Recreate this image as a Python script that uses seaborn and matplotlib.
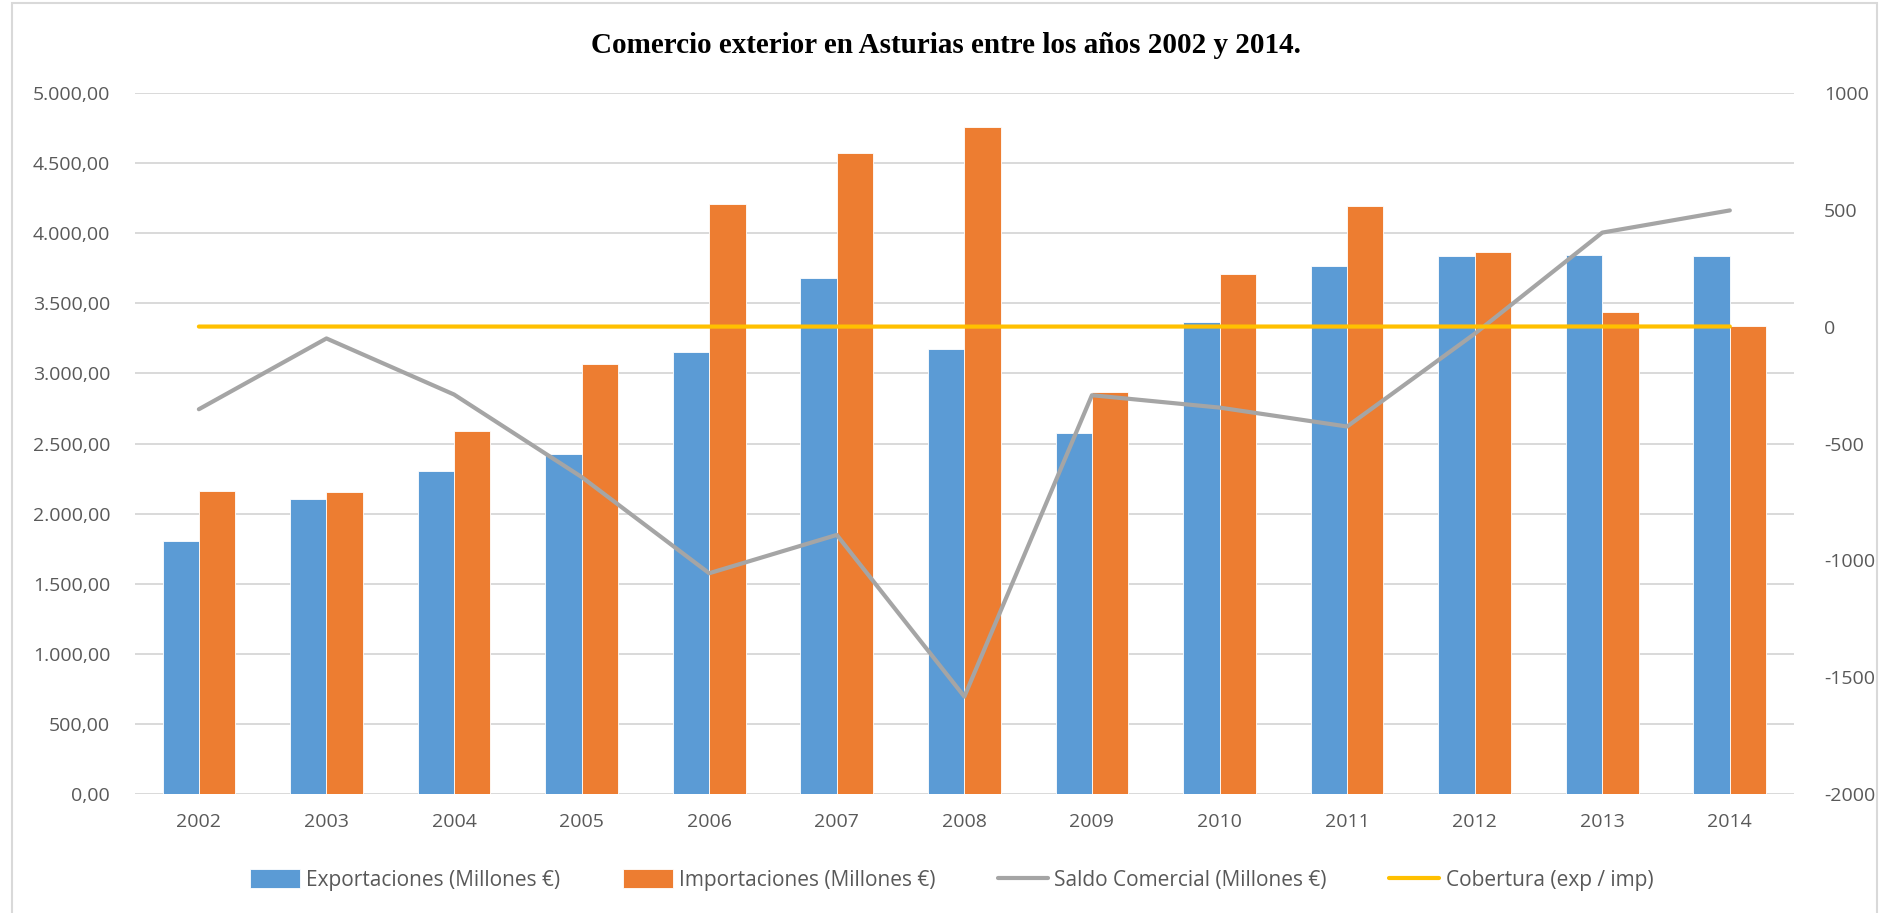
import pandas as pd
import seaborn as sns
import matplotlib.pyplot as plt
from matplotlib.patches import Rectangle
from matplotlib.ticker import FuncFormatter, MultipleLocator

# -----------------------------
# Data
# -----------------------------
anios = ["2002", "2003", "2004", "2005", "2006", "2007", "2008",
         "2009", "2010", "2011", "2012", "2013", "2014"]
exportaciones = [1806, 2105, 2303, 2424, 3151, 3679, 3178,
                 2572, 3366, 3766, 3837, 3843, 3837]
importaciones = [2159, 2155, 2593, 3067, 4206, 4570, 4761,
                 2865, 3712, 4193, 3867, 3440, 3339]
saldo = [-353, -50, -290, -643, -1055, -891, -1583,
         -293, -346, -427, -30, 403, 498]
cobertura = [0.84, 0.98, 0.89, 0.79, 0.75, 0.81, 0.67,
             0.90, 0.91, 0.90, 0.99, 1.12, 1.15]

lab_exp = "Exportaciones (Millones €)"
lab_imp = "Importaciones (Millones €)"
lab_saldo = "Saldo Comercial (Millones €)"
lab_cob = "Cobertura (exp / imp)"

df_bars = pd.DataFrame({
    "anio": anios * 2,
    "valor": exportaciones + importaciones,
    "serie": [lab_exp] * len(anios) + [lab_imp] * len(anios),
})
df_lines = pd.DataFrame({"anio": anios, "saldo": saldo, "cobertura": cobertura})

# -----------------------------
# Style
# -----------------------------
sns.set_style("white")
plt.rcParams["font.family"] = ["Open Sans", "DejaVu Sans"]
plt.rcParams["axes.unicode_minus"] = False
gris_txt = "#595959"

fig = plt.figure(figsize=(18.92, 9.13), dpi=100)
ax = fig.add_axes([0.0714, 0.1303, 0.8766, 0.7677])

# -----------------------------
# Bars
# -----------------------------
sns.barplot(data=df_bars, x="anio", y="valor", hue="serie",
            palette=["#5B9BD5", "#ED7D31"], width=0.57,
            edgecolor="white", linewidth=0.6, saturation=1, ax=ax, zorder=2)
ax.get_legend().remove()
ax.set_xlim(-0.5, len(anios) - 0.5)
ax.set_ylim(0, 5000)
ax.yaxis.set_major_locator(MultipleLocator(500))
ax.yaxis.set_major_formatter(FuncFormatter(
    lambda v, p: f"{v:,.2f}".replace(",", "X").replace(".", ",").replace("X", ".")))
ax.grid(axis="y", color="#D9D9D9", linewidth=1.4, zorder=0)
ax.set_axisbelow(True)
ax.set_xlabel("")
ax.set_ylabel("")
for s in ax.spines.values():
    s.set_visible(False)
ax.tick_params(axis="both", length=0, labelsize=14, labelcolor=gris_txt)
ax.tick_params(axis="x", pad=14)
ax.tick_params(axis="y", pad=18)

# -----------------------------
# Lines on secondary axis
# -----------------------------
ax2 = ax.twinx()
sns.lineplot(data=df_lines, x="anio", y="saldo", color="#A5A5A5",
             linewidth=3, label=lab_saldo, ax=ax2, sort=False)
sns.lineplot(data=df_lines, x="anio", y="cobertura", color="#FFC000",
             linewidth=3, label=lab_cob, ax=ax2, sort=False)
ax2.get_legend().remove()
ax2.set_ylim(-2000, 1000)
ax2.yaxis.set_major_locator(MultipleLocator(500))
ax2.set_xlim(-0.5, len(anios) - 0.5)
ax2.set_ylabel("")
ax2.set_xlabel("")
for s in ax2.spines.values():
    s.set_visible(False)
ax2.tick_params(axis="y", length=0, labelsize=14, labelcolor=gris_txt, pad=22)

# -----------------------------
# Title, legend, frame
# -----------------------------
fig.text(0.5, 0.950, "Comercio exterior en Asturias entre los años 2002 y 2014.",
         ha="center", va="center", fontsize=21, fontweight="bold",
         family="Liberation Serif", color="black")

h1, l1 = ax.get_legend_handles_labels()
h2, l2 = ax2.get_legend_handles_labels()
fig.legend(h1 + h2, l1 + l2, loc="center", bbox_to_anchor=(0.503, 0.036),
           ncol=4, frameon=False, fontsize=15, labelcolor=gris_txt,
           handlelength=2.4, handleheight=1.0, columnspacing=3.0, handletextpad=0.3)

fig.patches.append(Rectangle((0.0063, -0.01), 0.986, 1.007, transform=fig.transFigure,
                             fill=False, edgecolor="#D9D9D9", linewidth=1.5))

plt.savefig("out.png", dpi=100)
plt.close()
